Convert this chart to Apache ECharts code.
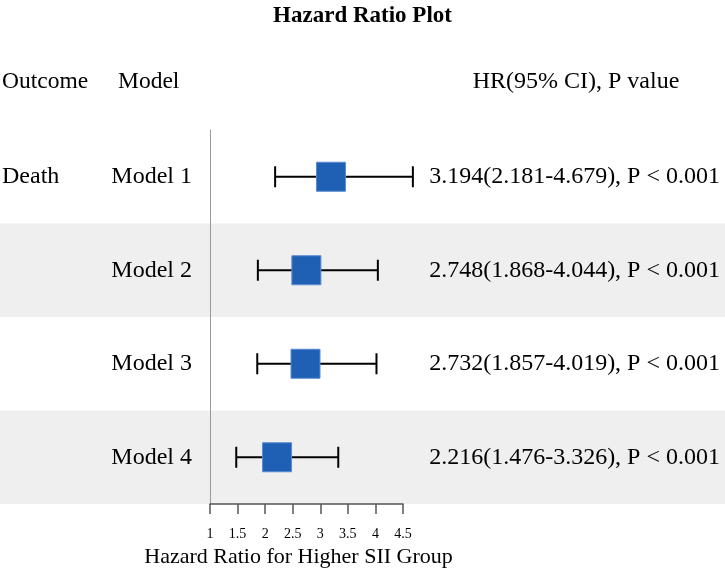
<!DOCTYPE html>
<html>
<head>
<meta charset="utf-8">
<script src="https://cdn.jsdelivr.net/npm/echarts@6/dist/echarts.min.js"></script>
<style>html,body{margin:0;padding:0;background:#fff}#c{width:725px;height:571px}</style>
</head>
<body>
<div id="c"></div>
<script>
var outcomes = ['Death', '', '', ''];
var models = ['Model 1', 'Model 2', 'Model 3', 'Model 4'];
var hr = [3.194, 2.748, 2.732, 2.216];
var lower = [2.181, 1.868, 1.857, 1.476];
var upper = [4.679, 4.044, 4.019, 3.326];
var pText = ['P < 0.001', 'P < 0.001', 'P < 0.001', 'P < 0.001'];
var xTicks = [1, 1.5, 2, 2.5, 3, 3.5, 4, 4.5];
var headers = ['Outcome', 'Model', 'HR(95% CI), P value'];

var FONT = '"Liberation Serif", "Times New Roman", serif';
var chart = echarts.init(document.getElementById('c'));

var rows = models.map(function (m, i) {
  return [i, lower[i], upper[i], hr[i]];
});
var hrLabels = models.map(function (m, i) {
  return hr[i].toFixed(3) + '(' + lower[i].toFixed(3) + '-' + upper[i].toFixed(3) + '), ' + pText[i];
});

chart.setOption({
  animation: false,
  title: {
    text: 'Hazard Ratio Plot', left: 'center', top: 0,
    textStyle: { fontFamily: FONT, fontWeight: 'bold', fontSize: 23, color: '#000' }
  },
  graphic: [
    { type: 'text', x: 2, y: 82, style: { text: headers[0], font: '23.5px ' + FONT, fill: '#000', verticalAlign: 'middle' } },
    { type: 'text', x: 118, y: 82, style: { text: headers[1], font: '23.5px ' + FONT, fill: '#000', verticalAlign: 'middle' } },
    { type: 'text', x: 576, y: 82, style: { text: headers[2], font: '24px ' + FONT, fill: '#000', align: 'center', verticalAlign: 'middle' } }
  ],
  grid: { left: 210, right: 322, top: 130, bottom: 67, outerBoundsMode: 'none', containLabel: false },
  xAxis: {
    type: 'value', min: xTicks[0], max: xTicks[xTicks.length - 1], interval: 0.5,
    axisLine: { show: true, onZero: false, lineStyle: { color: '#555', width: 1.5 } },
    axisTick: { show: true, length: 10, lineStyle: { color: '#555', width: 1.5 } },
    axisLabel: { fontFamily: FONT, fontSize: 14, color: '#000', margin: 23 },
    splitLine: { show: false },
    name: 'Hazard Ratio for Higher SII Group', nameLocation: 'middle', nameGap: 37,
    nameTextStyle: { fontFamily: FONT, fontSize: 22, color: '#000', padding: [0, 16, 0, 0] }
  },
  yAxis: {
    type: 'value', min: -0.5, max: 3.5, inverse: true,
    axisLine: { show: true, onZero: false, lineStyle: { color: '#999', width: 1 } },
    axisTick: { show: false }, axisLabel: { show: false }, splitLine: { show: false }
  },
  series: [
    {
      type: 'custom', clip: false, z: 0, silent: true,
      data: rows,
      renderItem: function (params, api) {
        var i = api.value(0);
        if (i % 2 !== 1) return null;
        var top = api.coord([1, i - 0.5])[1];
        var bot = api.coord([1, i + 0.5])[1];
        return { type: 'rect', shape: { x: 0, y: top, width: api.getWidth(), height: bot - top }, style: { fill: '#efefef' }, z2: 0 };
      }
    },
    {
      type: 'custom', clip: false, z: 1, silent: true,
      data: rows,
      renderItem: function (params, api) {
        var i = api.value(0);
        var p1 = api.coord([api.value(1), i]);
        var p2 = api.coord([api.value(2), i]);
        var pc = api.coord([api.value(3), i]);
        var cap = 10.5, bs = 29;
        var ls = { stroke: '#000', lineWidth: 2 };
        return {
          type: 'group', children: [
            { type: 'line', shape: { x1: p1[0], y1: p1[1], x2: p2[0], y2: p2[1] }, style: ls },
            { type: 'line', shape: { x1: p1[0], y1: p1[1] - cap, x2: p1[0], y2: p1[1] + cap }, style: ls },
            { type: 'line', shape: { x1: p2[0], y1: p2[1] - cap, x2: p2[0], y2: p2[1] + cap }, style: ls },
            { type: 'rect', shape: { x: pc[0] - bs / 2, y: pc[1] - bs / 2, width: bs, height: bs }, style: { fill: '#1f5fb4', stroke: '#5a8bd0', lineWidth: 1 } }
          ]
        };
      }
    },
    {
      type: 'custom', clip: false, z: 2, silent: true,
      data: rows,
      renderItem: function (params, api) {
        var i = api.value(0);
        var y = api.coord([1, i])[1];
        var f = '24px ' + FONT;
        return {
          type: 'group', children: [
            { type: 'text', style: { text: outcomes[i], x: 2, y: y, font: f, fill: '#000', align: 'left', verticalAlign: 'middle' } },
            { type: 'text', style: { text: models[i], x: 192, y: y, font: f, fill: '#000', align: 'right', verticalAlign: 'middle' } },
            { type: 'text', style: { text: hrLabels[i], x: 720, y: y, font: f, fill: '#000', align: 'right', verticalAlign: 'middle' } }
          ]
        };
      }
    }
  ]
});
</script>
</body>
</html>
